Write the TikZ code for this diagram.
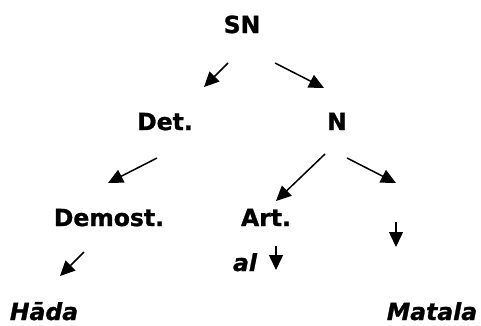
\documentclass[tikz,border=0pt]{standalone}
\usepackage{fontspec}
\setmainfont{DejaVu Sans}[BoldFeatures={FakeBold=1.2},BoldItalicFeatures={FakeBold=1.2}]
\usetikzlibrary{arrows.meta}
\tikzset{
  lbl/.style={font=\fontsize{23.5}{26}\selectfont\bfseries, inner sep=0pt, anchor=base},
  word/.style={lbl, font=\fontsize{23.5}{26}\selectfont\bfseries\itshape},
  arr/.style={line width=1.5pt, -{Triangle[length=15pt,width=14pt]}}
}
\begin{document}
\begin{tikzpicture}[x=1pt,y=-1pt]
\useasboundingbox (0,0) rectangle (481,325);
\node[lbl] (sn) at (242,33) {SN};
\node[lbl] (det) at (165,130) {Det.};
\node[lbl] (n) at (337,130) {N};
\node[lbl] (demost) at (109,226) {Demost.};
\node[lbl] (art) at (266,226) {Art.};
\node[word] (al) at (245,271) {al};
\node[word] (hada) at (44,320) {Hāda};
\node[word] (matala) at (432,320) {Matala};
% arrow endpoints
\coordinate (a1s) at (228,63);  \coordinate (a1e) at (204,87);
\coordinate (a2s) at (275,63);  \coordinate (a2e) at (324,88);
\coordinate (a3s) at (157,158); \coordinate (a3e) at (108,183);
\coordinate (a4s) at (325,154); \coordinate (a4e) at (276,201);
\coordinate (a5s) at (347,158); \coordinate (a5e) at (396,183);
\coordinate (a6s) at (396,222); \coordinate (a6e) at (396,247);
\coordinate (a7s) at (276,246); \coordinate (a7e) at (276,270);
\coordinate (a8s) at (84,252);  \coordinate (a8e) at (60,276);
\draw[arr] (a1s) -- (a1e);
\draw[arr] (a2s) -- (a2e);
\draw[arr] (a3s) -- (a3e);
\draw[arr] (a4s) -- (a4e);
\draw[arr] (a5s) -- (a5e);
\draw[arr] (a6s) -- (a6e);
\draw[arr] (a7s) -- (a7e);
\draw[arr] (a8s) -- (a8e);
\end{tikzpicture}
\end{document}
